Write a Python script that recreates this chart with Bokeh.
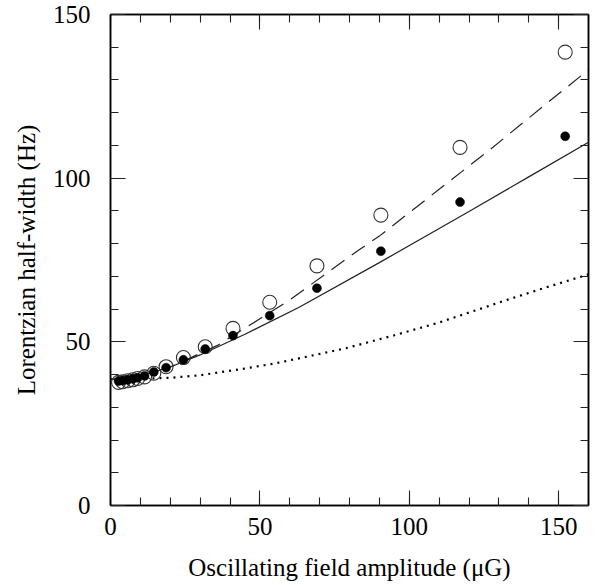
from bokeh.plotting import figure
from bokeh.models import Range1d, LinearAxis, SingleIntervalTicker, CustomJSTickFormatter
from bokeh.embed import file_html
from bokeh.resources import INLINE

# measured points
amp = [2.7, 4.1, 5.8, 7.5, 9.1, 11.4, 14.5, 18.6, 24.4, 31.7, 41.0, 53.3, 69.1, 90.5, 117.0, 152.2]
filled_w = [38.0, 38.2, 38.4, 38.7, 39.0, 39.6, 40.8, 42.1, 44.5, 47.8, 51.9, 58.0, 66.4, 77.7, 92.7, 112.8]
open_w = [37.6, 37.8, 38.1, 38.4, 38.8, 39.3, 40.4, 42.4, 45.2, 48.5, 54.1, 62.1, 73.2, 88.7, 109.4, 138.5]

# model curves
solid_x = [0, 10, 20, 30, 45, 63, 90, 120, 140, 160]
solid_y = [38.5, 39.5, 42.3, 46.0, 52.3, 60.5, 74.2, 89.8, 100.4, 111.0]
dash_x = [0, 10, 20, 36, 60, 83, 90, 110, 127, 145, 160]
dash_y = [38.5, 39.8, 42.3, 49.0, 62.8, 78.0, 82.3, 96.6, 108.7, 122.1, 133.1]
dot_x = [0, 10, 20, 30, 44, 55, 66, 79, 95, 110, 132, 145, 160]
dot_y = [38.6, 38.7, 39.0, 39.8, 41.7, 43.4, 45.5, 48.1, 52.0, 55.9, 62.6, 66.4, 70.6]

FONT = "Liberation Serif"

p = figure(frame_width=478, frame_height=491, output_backend="svg", toolbar_location=None,
           x_range=Range1d(0, 160), y_range=Range1d(0, 150),
           min_border_left=110, min_border_right=4, min_border_top=14, min_border_bottom=68)
p.grid.visible = False
p.outline_line_color = "black"
p.outline_line_width = 1.5
p.background_fill_color = "white"
p.border_fill_color = "white"

def style(ax, labels=True):
    ax.ticker = SingleIntervalTicker(interval=50, num_minor_ticks=5)
    ax.major_tick_in = 15
    ax.major_tick_out = 0
    ax.minor_tick_in = 8
    ax.minor_tick_out = 0
    ax.axis_line_color = "black"
    ax.axis_line_width = 1.5
    ax.major_tick_line_color = "#222222"
    ax.minor_tick_line_color = "#222222"
    ax.major_tick_line_width = 1.1
    ax.minor_tick_line_width = 1.1
    ax.major_label_text_font = FONT
    ax.major_label_text_font_size = "25px"
    ax.major_label_text_color = "black"
    ax.axis_label_text_font = FONT
    ax.axis_label_text_font_size = "25px"
    ax.axis_label_text_font_style = "normal"
    ax.axis_label_text_color = "black"
    if not labels:
        ax.formatter = CustomJSTickFormatter(code="return ''")
        ax.major_label_standoff = 0

style(p.xaxis[0])
style(p.yaxis[0])
p.xaxis[0].axis_label = "Oscillating field amplitude (\u03bcG)"
p.yaxis[0].axis_label = "Lorentzian half-width (Hz)"
p.xaxis[0].major_label_standoff = 12
p.yaxis[0].major_label_standoff = 20
p.xaxis[0].axis_label_standoff = 16
p.yaxis[0].axis_label_standoff = 10

top = LinearAxis()
right = LinearAxis()
style(top, labels=False)
style(right, labels=False)
p.add_layout(top, "above")
p.add_layout(right, "right")

p.line(dot_x, dot_y, line_color="black", line_width=2.2, line_dash="2 5")
p.line(dash_x, dash_y, line_color="#222222", line_width=1.2, line_dash="16 9")
p.line(solid_x, solid_y, line_color="#222222", line_width=1.2)

p.scatter(amp, open_w, marker="circle", size=14, fill_color=None,
          line_color="#333333", line_width=1.1)
p.scatter(amp, filled_w, marker="circle", size=9, fill_color="black",
          line_color="black", line_width=0.5)

open("out.html", "w").write(file_html(p, INLINE))
